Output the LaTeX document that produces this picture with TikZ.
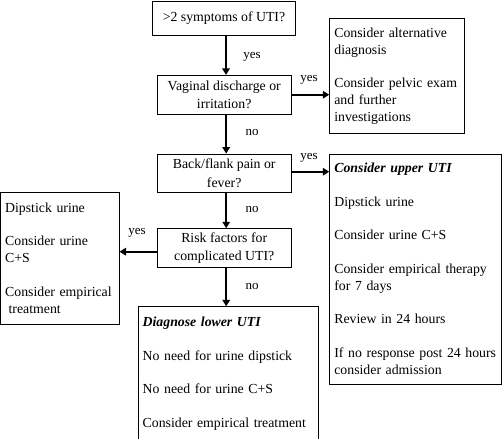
\documentclass[tikz,border=0pt]{standalone}
\usepackage{fontspec}
\setmainfont{Liberation Serif}
\usetikzlibrary{arrows.meta}
\begin{document}
\begin{tikzpicture}[x=1pt,y=-1pt,
  box/.style={draw, line width=0.9pt, inner sep=0pt, anchor=center},
  qbox/.style={box, align=center, font=\fontsize{13.8}{18.5}\selectfont},
  tbox/.style={box, align=left, font=\fontsize{13.8}{17}\selectfont, inner xsep=4.6pt, inner ysep=0pt},
  lbl/.style={font=\fontsize{13}{15}\selectfont, inner sep=0pt},
  arr/.style={line width=1.8pt, -{Triangle[length=6.5pt,width=7.5pt]}}]
\useasboundingbox (0,0) rectangle (502,438);

% question boxes
\node[qbox, minimum width=142.6pt, minimum height=34.3pt] (b1) at (224,18.2) {>2 symptoms of UTI?};
\node[qbox, minimum width=134.3pt, minimum height=38.7pt] (b2) at (224.2,94.7) {Vaginal discharge or\\irritation?};
\node[qbox, minimum width=134.3pt, minimum height=38.3pt] (b3) at (224.2,173.2) {Back/flank pain or\\fever?};
\node[qbox, minimum width=134.3pt, minimum height=38.6pt] (b4) at (224.2,248) {Risk factors for\\complicated UTI?};

% outcome boxes
\node[tbox, text width=125.1pt, minimum height=115pt] (r1) at (396.9,75.8)
  {\mbox{Consider alternative}\\diagnosis\\[16pt]\mbox{Consider pelvic exam}\\and further\\investigations};
\node[tbox, text width=162.1pt, minimum height=230pt] (r2) at (415.4,269)
  {\textbf{\textit{Consider upper UTI}}\\[16.5pt]Dipstick urine\\[16.5pt]Consider urine C+S\\[16.5pt]\mbox{Consider empirical therapy}\\for 7 days\\[16.5pt]Review in 24 hours\\[16.5pt]\mbox{If no response post 24 hours}\\consider admission};
\node[tbox, text width=109.3pt, minimum height=131.7pt] (lb) at (59.8,258.2)
  {Dipstick urine\\[16.5pt]Consider urine\\C+S\\[16.5pt]\mbox{Consider empirical}\\\hspace*{3.5pt}treatment};
\node[tbox, text width=171.1pt, minimum height=134.3pt] (b5) at (228.2,373.9)
  {\textbf{\textit{Diagnose lower UTI}}\\[16.5pt]No need for urine dipstick\\[16.5pt]No need for urine C+S\\[16.5pt]\mbox{Consider empirical treatment}};

% connectors
\draw[arr] ([xshift=2pt]b1.south) -- ([xshift=2pt]b1.south |- b2.north);
\draw[arr] ([xshift=2pt]b2.south) -- ([xshift=2pt]b2.south |- b3.north);
\draw[arr] ([xshift=2pt]b3.south) -- ([xshift=2pt]b3.south |- b4.north);
\draw[arr] ([xshift=2pt]b4.south) -- ([xshift=2pt]b4.south |- b5.north);
\draw[arr] (b2.east) -- (b2.east -| r1.west);
\draw[arr] ([yshift=1.5pt]b3.east) -- ([yshift=1.5pt]b3.east -| r2.west);
\draw[arr] ([yshift=-3.7pt]b4.west) -- ([yshift=-3.7pt]b4.west -| lb.east);

% labels
\node[lbl] (l1) at (252,57) {yes};
\node[lbl] (l2) at (309,80) {yes};
\node[lbl] (l3) at (252,133) {no};
\node[lbl] (l4) at (309,158) {yes};
\node[lbl] (l5) at (252,210) {no};
\node[lbl] (l6) at (137,233) {yes};
\node[lbl] (l7) at (252,286) {no};
\end{tikzpicture}
\end{document}
